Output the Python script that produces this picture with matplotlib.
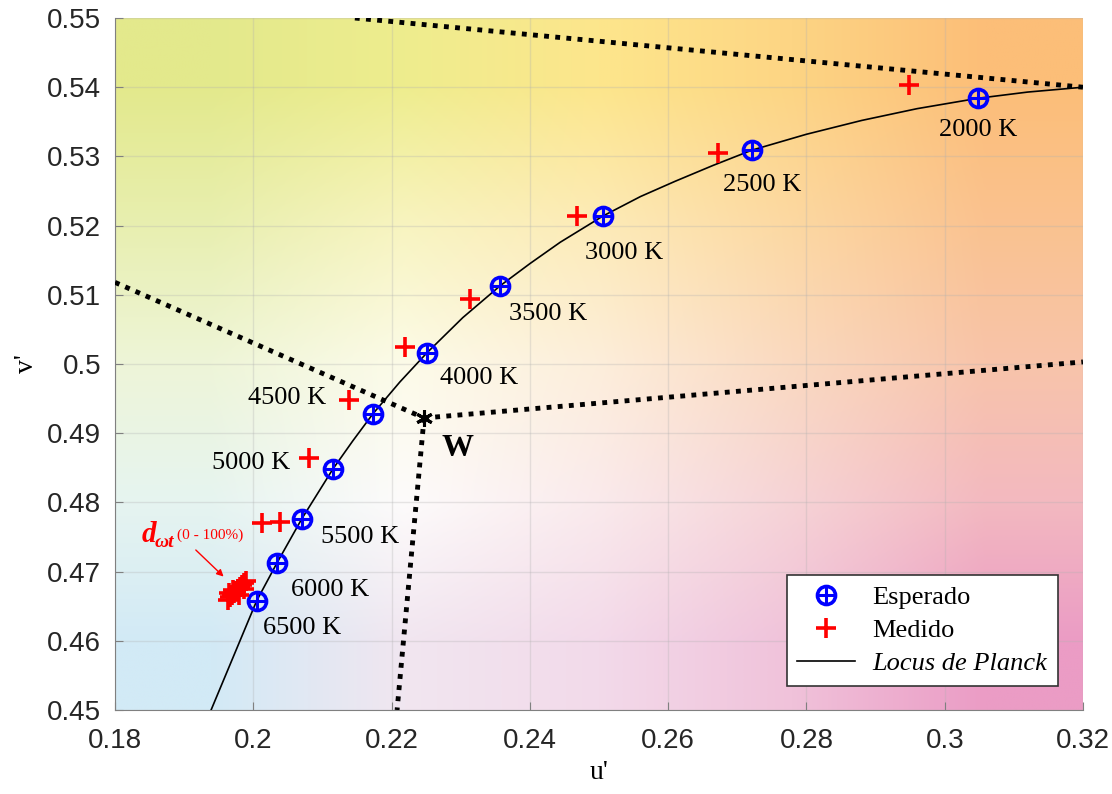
import matplotlib
matplotlib.use("Agg")
import matplotlib.pyplot as plt
import numpy as np
from matplotlib.colors import to_rgb
from matplotlib.legend_handler import HandlerTuple
from matplotlib.lines import Line2D

# expected (blue) chromaticities along the Planck locus
cct_labels = ["2000 K", "2500 K", "3000 K", "3500 K", "4000 K",
              "4500 K", "5000 K", "5500 K", "6000 K", "6500 K"]
u_expected = [0.3048, 0.2721, 0.2506, 0.2357, 0.2251,
              0.2173, 0.2115, 0.2070, 0.2034, 0.2005]
v_expected = [0.5384, 0.5309, 0.5214, 0.5113, 0.5016,
              0.4928, 0.4848, 0.4776, 0.4712, 0.4658]

# measured (red) points
u_measured = [0.2948, 0.2672, 0.2468, 0.2313, 0.2219, 0.2138, 0.2081,
              0.2013, 0.2039]
v_measured = [0.5403, 0.5305, 0.5214, 0.5094, 0.5025, 0.4948, 0.4864,
              0.4770, 0.4771]

# d_wt cluster (0 - 100 %)
u_cluster = [0.1963, 0.1966, 0.1969, 0.1972, 0.1975, 0.1978, 0.1981,
             0.1984, 0.1987, 0.1990, 0.1971, 0.1979, 0.1987, 0.1965]
v_cluster = [0.4659, 0.4663, 0.4666, 0.4669, 0.4672, 0.4675, 0.4678,
             0.4681, 0.4684, 0.4686, 0.4673, 0.4666, 0.4675, 0.4669]

# Planck locus
u_locus = [0.1939, 0.2005, 0.2034, 0.2070, 0.2115, 0.2144, 0.2173,
           0.2212, 0.2251, 0.2303, 0.2357, 0.2400, 0.2444, 0.2475, 0.2506,
           0.2560, 0.2610, 0.2665, 0.2721, 0.2800, 0.2880, 0.2960, 0.3048,
           0.3120, 0.3200]
v_locus = [0.4500, 0.4658, 0.4712, 0.4776, 0.4848, 0.4889, 0.4928,
           0.4974, 0.5016, 0.5067, 0.5113, 0.5145, 0.5176, 0.5195, 0.5214,
           0.5242, 0.5264, 0.5287, 0.5309, 0.5332, 0.5352, 0.5369, 0.5384,
           0.5393, 0.5400]

# white point and dotted boundary lines
w_point = (0.2247, 0.4922)
line_left = ([0.1800, 0.2247], [0.5118, 0.4922])
line_right = ([0.2247, 0.3200], [0.4922, 0.5003])
line_down = ([0.2247, 0.2208], [0.4922, 0.4500])
line_top = ([0.2147, 0.3200], [0.5500, 0.5400])

# label positions (u, v) for each CCT label
label_u = [0.3048, 0.2736, 0.2536, 0.2426, 0.2326,
           0.2049, 0.1997, 0.2154, 0.2111, 0.2070]
label_v = [0.5338, 0.5259, 0.5160, 0.5072, 0.4980,
           0.4951, 0.4857, 0.4750, 0.4673, 0.4618]

xticks = [0.18, 0.2, 0.22, 0.24, 0.26, 0.28, 0.3, 0.32]
xtick_labels = ["0.18", "0.2", "0.22", "0.24", "0.26", "0.28", "0.3", "0.32"]
yticks = [0.45, 0.46, 0.47, 0.48, 0.49, 0.5, 0.51, 0.52, 0.53, 0.54, 0.55]
ytick_labels = ["0.45", "0.46", "0.47", "0.48", "0.49", "0.5", "0.51",
                "0.52", "0.53", "0.54", "0.55"]

# background colour grid (rows top -> bottom, cols left -> right)
bg_colors = [
    ["#e3e98c", "#eeed8e", "#fde68c", "#fdd584", "#fcbe78"],
    ["#e8efb0", "#f8f4c0", "#fdebb8", "#fcd8a2", "#fac290"],
    ["#eef5d8", "#fcfbe8", "#fdeedb", "#fad9c0", "#f8c4aa"],
    ["#e6f4f0", "#fdfbfb", "#faeaec", "#f6d3d6", "#f3b9c0"],
    ["#d2eaf6", "#f1e6f0", "#f3daea", "#f0c2da", "#eb9cc5"],
]

serif = "Liberation Serif"
sans = "Liberation Sans"

fig = plt.figure(figsize=(11.12, 7.94), dpi=100)
ax = fig.add_axes([0.1034, 0.1058, 0.8705, 0.8715])

bg = np.array([[to_rgb(c) for c in row] for row in bg_colors])
ax.imshow(bg, extent=[0.18, 0.32, 0.45, 0.55], aspect="auto",
          interpolation="bilinear", zorder=0)

ax.set_xlim(0.18, 0.32)
ax.set_ylim(0.45, 0.55)

ax.set_xticks(xticks)
ax.set_xticklabels(xtick_labels, fontfamily=sans, fontsize=20,
                   color="#262626")
ax.set_yticks(yticks)
ax.set_yticklabels(ytick_labels, fontfamily=sans, fontsize=20,
                   color="#262626")
ax.tick_params(direction="in", length=6, color="#808080")
ax.tick_params(axis="x", pad=13)
ax.tick_params(axis="y", pad=10)
ax.grid(True, color="#b0b0b0", alpha=0.3, linewidth=1)
for s in ["top", "right"]:
    ax.spines[s].set_visible(False)
for s in ["left", "bottom"]:
    ax.spines[s].set_color("#808080")

# dotted lines
for lx, ly in [line_left, line_right, line_down, line_top]:
    ax.plot(lx, ly, color="black", linestyle=(0, (1, 1.3)), linewidth=3.5,
            zorder=3)

# Planck locus
ax.plot(u_locus, v_locus, color="black", linewidth=1.2, zorder=4)

# expected points
ax.plot(u_expected, v_expected, "o", mfc="none", mec="blue", ms=13,
        mew=2.6, zorder=5)
ax.plot(u_expected, v_expected, "+", color="blue", ms=13, mew=2.2,
        zorder=5)

# measured points
ax.plot(u_measured + u_cluster, v_measured + v_cluster, "+", color="red",
        ms=14, mew=2.6, zorder=5)

# white point
ax.plot([w_point[0]], [w_point[1]], marker=(6, 2, 0), color="black",
        ms=12, mew=2.2, zorder=6)
ax.text(0.2296, 0.4878, "W", fontfamily=serif, fontsize=23,
        fontweight="bold", ha="center", va="center")

for lab, lu, lv in zip(cct_labels, label_u, label_v):
    ax.text(lu, lv, lab, fontfamily=serif, fontsize=19, ha="center",
            va="center")

# d_wt annotation
ax.text(0.1839, 0.4743, "d", fontfamily=serif, fontsize=21,
        fontweight="bold", fontstyle="italic", color="red", va="baseline")
ax.text(0.1858, 0.4736, "\u03c9t", fontfamily=serif, fontsize=14,
        fontweight="bold", fontstyle="italic", color="red", va="baseline")
ax.text(0.1889, 0.4747, "(0 - 100%)", fontfamily=serif, fontsize=11,
        color="red", va="baseline")
ax.annotate("", xy=(0.1960, 0.4690), xytext=(0.1914, 0.4734),
            arrowprops=dict(arrowstyle="-|>", color="red", lw=1,
                            mutation_scale=10))

ax.set_xlabel("u'", fontfamily=serif, fontsize=20, labelpad=4)
ax.set_ylabel("v'", fontfamily=serif, fontsize=20, labelpad=6)

# legend
h_exp = (Line2D([], [], ls="none", marker="o", mfc="none", mec="blue",
                ms=13, mew=2.6),
         Line2D([], [], ls="none", marker="+", color="blue", ms=13,
                mew=2.2))
h_med = Line2D([], [], ls="none", marker="+", color="red", ms=14, mew=2.6)
h_loc = Line2D([], [], color="black", lw=1.2)
leg = ax.legend([h_exp, h_med, h_loc],
                ["Esperado", "Medido", "Locus de Planck"],
                handler_map={tuple: HandlerTuple(ndivide=1)},
                loc="lower right", bbox_to_anchor=(0.974, 0.035),
                prop={"family": serif, "size": 19}, fancybox=False,
                framealpha=1, edgecolor="#333333", handlelength=2.2,
                handletextpad=0.65, labelspacing=0.36, borderpad=0.4,
                borderaxespad=0)
leg.get_frame().set_linewidth(1.2)
leg.get_texts()[2].set_fontstyle("italic")
leg.set_zorder(10)

fig.savefig("out.png", dpi=100)
